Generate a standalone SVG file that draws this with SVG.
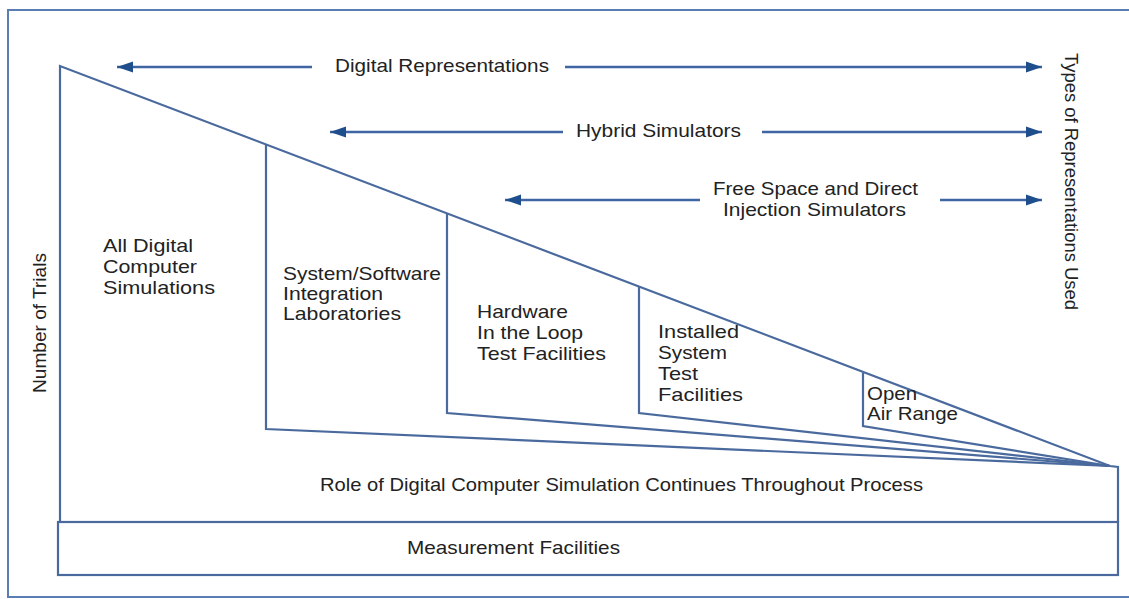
<svg xmlns="http://www.w3.org/2000/svg" width="1129" height="599" viewBox="0 0 1129 599">
  <style>
    .frame { fill: none; stroke: #5a7db3; stroke-width: 2; }
    .edge { fill: none; stroke: #4a6a9e; stroke-width: 2.2; stroke-linejoin: miter; }
    .conn { fill: none; stroke: #3f66a3; stroke-width: 2.5; }
    .lbl { font-family: "Liberation Sans", Arial, sans-serif; font-size: 19px; fill: #222222; }
  </style>
  <defs>
    <marker id="ah" markerUnits="userSpaceOnUse" markerWidth="17" markerHeight="12" refX="16" refY="6" orient="auto">
      <path d="M0,0.5 L16,6 L0,11.5 z" fill="#1f4e8c"/>
    </marker>
  </defs>
  <rect width="1129" height="599" fill="#ffffff"/>
  <rect class="frame" x="8" y="10" width="1135" height="587"/>

  <g id="all-digital">
    <path class="edge" d="M60,522 V66 L1110,466 L1118,467 V522"/>
    <text class="lbl" x="103" y="252" textLength="90" lengthAdjust="spacingAndGlyphs">All Digital</text>
    <text class="lbl" x="103" y="273" textLength="94" lengthAdjust="spacingAndGlyphs">Computer</text>
    <text class="lbl" x="103" y="294" textLength="112" lengthAdjust="spacingAndGlyphs">Simulations</text>
  </g>

  <g id="sil">
    <path class="edge" d="M266,145 V429 L1110,466"/>
    <text class="lbl" x="283" y="280" textLength="158" lengthAdjust="spacingAndGlyphs">System/Software</text>
    <text class="lbl" x="283" y="300" textLength="100" lengthAdjust="spacingAndGlyphs">Integration</text>
    <text class="lbl" x="283" y="320" textLength="118" lengthAdjust="spacingAndGlyphs">Laboratories</text>
  </g>

  <g id="hitl">
    <path class="edge" d="M447,213 V413 L1110,466"/>
    <text class="lbl" x="477" y="318" textLength="91" lengthAdjust="spacingAndGlyphs">Hardware</text>
    <text class="lbl" x="477" y="339" textLength="106" lengthAdjust="spacingAndGlyphs">In the Loop</text>
    <text class="lbl" x="477" y="360" textLength="129" lengthAdjust="spacingAndGlyphs">Test Facilities</text>
  </g>

  <g id="istf">
    <path class="edge" d="M639,287 V413 L1110,466"/>
    <text class="lbl" x="658" y="338" textLength="81" lengthAdjust="spacingAndGlyphs">Installed</text>
    <text class="lbl" x="658" y="359" textLength="69" lengthAdjust="spacingAndGlyphs">System</text>
    <text class="lbl" x="658" y="380" textLength="40" lengthAdjust="spacingAndGlyphs">Test</text>
    <text class="lbl" x="658" y="401" textLength="85" lengthAdjust="spacingAndGlyphs">Facilities</text>
  </g>

  <g id="open-air">
    <path class="edge" d="M863,373 V426 L1110,466"/>
    <text class="lbl" x="867" y="400" textLength="50" lengthAdjust="spacingAndGlyphs">Open</text>
    <text class="lbl" x="867" y="420" textLength="91" lengthAdjust="spacingAndGlyphs">Air Range</text>
  </g>

  <g id="role">
    <text class="lbl" x="320" y="491" textLength="603" lengthAdjust="spacingAndGlyphs">Role of Digital Computer Simulation Continues Throughout Process</text>
  </g>

  <g id="measurement">
    <rect class="edge" x="58" y="522" width="1060" height="53"/>
    <text class="lbl" x="407" y="554" textLength="213" lengthAdjust="spacingAndGlyphs">Measurement Facilities</text>
  </g>

  <g id="axis-labels">
    <text class="lbl" transform="translate(46,393) rotate(-90)" x="0" y="0" textLength="140" lengthAdjust="spacingAndGlyphs">Number of Trials</text>
    <text class="lbl" transform="translate(1065,53) rotate(90)" x="0" y="0" textLength="257" lengthAdjust="spacingAndGlyphs">Types of Representations Used</text>
  </g>

  <g id="rep-labels">
    <text class="lbl" x="335" y="72" textLength="214" lengthAdjust="spacingAndGlyphs">Digital Representations</text>
    <text class="lbl" x="576" y="137" textLength="165" lengthAdjust="spacingAndGlyphs">Hybrid Simulators</text>
    <text class="lbl" x="713" y="195" textLength="205" lengthAdjust="spacingAndGlyphs">Free Space and Direct</text>
    <text class="lbl" x="723" y="216" textLength="183" lengthAdjust="spacingAndGlyphs">Injection Simulators</text>
  </g>

  <g id="connectors">
    <line class="conn" x1="312" y1="67" x2="117" y2="67" marker-end="url(#ah)"/>
    <line class="conn" x1="565" y1="67" x2="1042" y2="67" marker-end="url(#ah)"/>
    <line class="conn" x1="563" y1="132" x2="330" y2="132" marker-end="url(#ah)"/>
    <line class="conn" x1="762" y1="132" x2="1042" y2="132" marker-end="url(#ah)"/>
    <line class="conn" x1="700" y1="200" x2="505" y2="200" marker-end="url(#ah)"/>
    <line class="conn" x1="940" y1="200" x2="1042" y2="200" marker-end="url(#ah)"/>
  </g>
</svg>
